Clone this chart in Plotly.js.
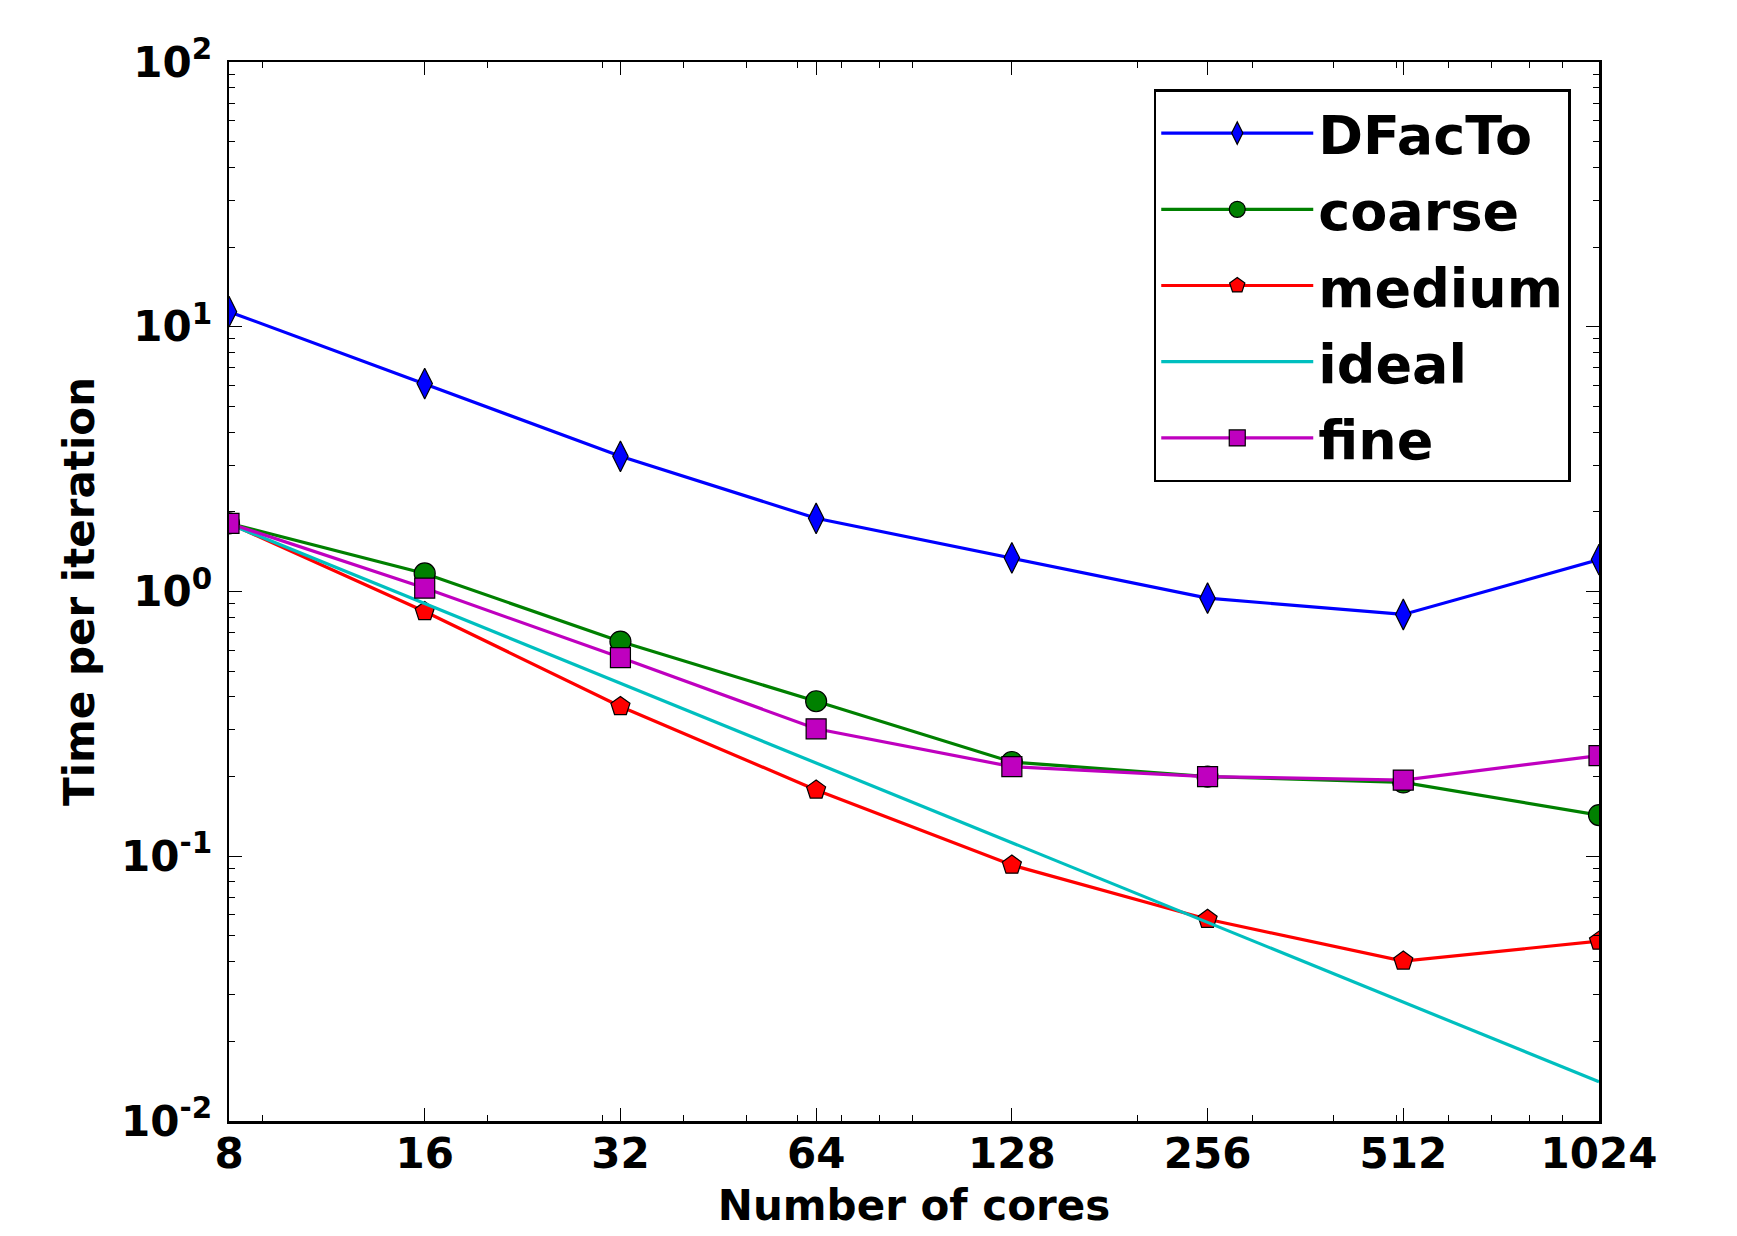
<!DOCTYPE html>
<html>
<head>
<meta charset="utf-8">
<script src="https://cdn.plot.ly/plotly-3.0.1.min.js"></script>
<style>html,body{margin:0;padding:0;background:#fff;}</style>
</head>
<body>
<div id="chart" style="width:1737px;height:1236px;"></div>
<script>
const cores = [8, 16, 32, 64, 128, 256, 512, 1024];
const dfacto = [11.4, 6.1, 3.24, 1.89, 1.34, 0.944, 0.819, 1.32];
const coarse = [1.81, 1.17, 0.647, 0.385, 0.227, 0.200, 0.190, 0.143];
const medium = [1.81, 0.84, 0.368, 0.178, 0.0926, 0.0578, 0.0402, 0.0478];
const ideal = [1.8, 0.9, 0.45, 0.225, 0.1125, 0.05625, 0.028125, 0.0140625];
const fine = [1.81, 1.03, 0.563, 0.303, 0.218, 0.200, 0.194, 0.240];

const xTickVals = [8, 16, 32, 64, 128, 256, 512, 1024];
const xTickText = ['8', '16', '32', '64', '128', '256', '512', '1024'];
const xMinorVals = [9, 20, 30, 40, 50, 60, 70, 80, 90, 200, 300, 400, 500, 600, 700, 800, 900];
const yTickVals = [0.01, 0.1, 1, 10, 100];
const yTickText = ['10<sup>-2</sup>', '10<sup>-1</sup>', '10<sup>0</sup>', '10<sup>1</sup>', '10<sup>2</sup>'];
const yMinorVals = [];
[0.01, 0.1, 1, 10].forEach(d => { for (let k = 2; k <= 9; k++) yMinorVals.push(d * k); });

const FONT = 'DejaVu Sans, sans-serif';
const LW = 3.2;
const mk = (sym, size, color) => ({symbol: sym, size: size, color: color, line: {color: '#000', width: 1.2}});

const traces = [
  {x: cores, y: dfacto, name: 'DFacTo', legendgroup: 'a', mode: 'lines+markers', line: {color: '#0000ff', width: LW}, marker: mk('diamond-tall', 22, '#0000ff')},
  {x: cores, y: coarse, name: 'coarse', legendgroup: 'b', mode: 'lines+markers', line: {color: '#008000', width: LW}, marker: mk('circle', 21, '#008000')},
  {x: cores, y: medium, name: 'medium', legendgroup: 'c', mode: 'lines+markers', line: {color: '#ff0000', width: LW}, marker: mk('pentagon', 20, '#ff0000')},
  {x: cores, y: ideal, name: 'ideal', legendgroup: 'd', mode: 'lines', line: {color: '#00bfbf', width: LW}},
  {x: cores, y: fine, name: 'fine', legendgroup: 'e', mode: 'lines+markers', line: {color: '#bf00bf', width: LW}, marker: mk('square', 20, '#bf00bf')}
];

const axisCommon = {
  showgrid: false, zeroline: false, showline: true, linecolor: '#000', linewidth: 2.5,
  mirror: 'allticks', ticks: 'inside', ticklen: 13, tickwidth: 1.2, tickcolor: '#000',
  tickfont: {family: FONT, size: 42, color: '#000', weight: 'bold'}
};

const layout = {
  width: 1737, height: 1236,
  paper_bgcolor: '#fff', plot_bgcolor: '#fff',
  margin: {l: 229, r: 138, t: 62, b: 115},
  showlegend: true,
  xaxis: Object.assign({}, axisCommon, {
    type: 'log', range: [Math.log10(8), Math.log10(1024)],
    tickmode: 'array', tickvals: xTickVals, ticktext: xTickText,
    ticklabelstandoff: -6,
    minor: {tickmode: 'array', tickvals: xMinorVals, ticks: 'inside', ticklen: 6, tickwidth: 1, tickcolor: '#000', showgrid: false},
    title: {text: 'Number of cores', font: {family: FONT, size: 42, color: '#000', weight: 'bold'}, standoff: 14}
  }),
  yaxis: Object.assign({}, axisCommon, {
    type: 'log', range: [-2, 2],
    tickmode: 'array', tickvals: yTickVals, ticktext: yTickText,
    ticklabelstandoff: 6,
    minor: {tickmode: 'array', tickvals: yMinorVals, ticks: 'inside', ticklen: 6, tickwidth: 1, tickcolor: '#000', showgrid: false},
    title: {text: 'Time per iteration', font: {family: FONT, size: 42, color: '#000', weight: 'bold'}, standoff: 14}
  }),
  legend: {
    x: 0.675, y: 0.9745, xanchor: 'left', yanchor: 'top',
    bgcolor: '#fff', bordercolor: '#000', borderwidth: 2.5,
    font: {family: FONT, size: 54, color: '#000', weight: 'bold'},
    itemwidth: 152, tracegroupgap: 3
  }
};

Plotly.newPlot('chart', traces, layout, {staticPlot: true, displayModeBar: false});
</script>
</body>
</html>
